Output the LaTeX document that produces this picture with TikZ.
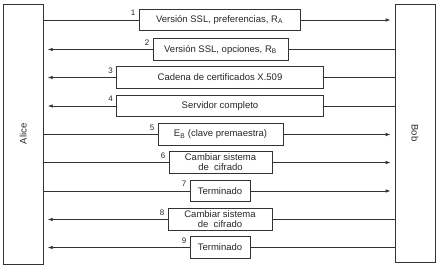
\documentclass[tikz,border=0pt]{standalone}
\usepackage{fontspec}
\setmainfont{Liberation Sans}
\usetikzlibrary{arrows.meta}
\begin{document}
\begin{tikzpicture}[x=1pt,y=-1pt,
  party/.style={draw=black!80, line width=0.8pt, inner sep=0, minimum width=40pt},
  who/.style={font=\fontsize{9.5}{10}\selectfont, text=black!85, inner sep=0},
  msgbox/.style={draw=black!80, line width=0.8pt, inner sep=0, minimum height=21.5pt,
    align=center, font=\fontsize{9.5}{10}\selectfont, text=black!85},
  link/.style={draw=black!80, line width=0.8pt},
  send/.style={link, -{Latex[length=5pt,width=3.6pt]}, shorten >=4pt},
  num/.style={font=\fontsize{8}{9}\selectfont, inner sep=0, anchor=south east, text=black!85},
]
\useasboundingbox (0,0) rectangle (438,267);

% the two parties
\node[party, minimum height=260pt] (alice) at (23.3,134) {};
\node[party, minimum height=258pt] (bob) at (415,133) {};
\node[who, rotate=90] (alicetxt) at (alice.center) {Alice};
\node[who, rotate=-90] (bobtxt) at (bob.center) {Bob};

% handshake messages
\node[msgbox, minimum width=161pt] (m1) at (219.5,20)   {Versión SSL, preferencias, R\textsubscript{A}};
\node[msgbox, minimum width=135pt] (m2) at (220.5,49.5) {Versión SSL, opciones, R\textsubscript{B}};
\node[msgbox, minimum width=207pt] (m3) at (220,77.5)   {Cadena de certificados X.509};
\node[msgbox, minimum width=207pt] (m4) at (220,106)    {Servidor completo};
\node[msgbox, minimum width=125pt] (m5) at (220.5,134.5){E\textsubscript{B} (clave premaestra)};
\node[msgbox, minimum width=103pt] (m6) at (220.5,162.5){Cambiar sistema\\de\ \ cifrado};
\node[msgbox, minimum width=60pt]  (m7) at (220,191)    {Terminado};
\node[msgbox, minimum width=104pt] (m8) at (220,219.5)  {Cambiar sistema\\de\ \ cifrado};
\node[msgbox, minimum width=60pt]  (m9) at (220,247.5)  {Terminado};

% sequence numbers
\foreach \m/\n in {m1/1,m2/2,m3/3,m4/4,m5/5,m6/6,m7/7,m8/8,m9/9}
  \node[num] (n\n) at ([xshift=-3pt,yshift=4pt]\m.west) {\n};

% Alice to Bob
\foreach \m in {m1,m5,m6,m7} {
  \draw[link] (\m.west -| alice.east) -- (\m.west);
  \draw[send] (\m.east) -- (\m.east -| bob.west);
}
% Bob to Alice
\foreach \m in {m2,m3,m4,m8,m9} {
  \draw[link] (\m.east -| bob.west) -- (\m.east);
  \draw[send] (\m.west) -- (\m.west -| alice.east);
}
\end{tikzpicture}
\end{document}
